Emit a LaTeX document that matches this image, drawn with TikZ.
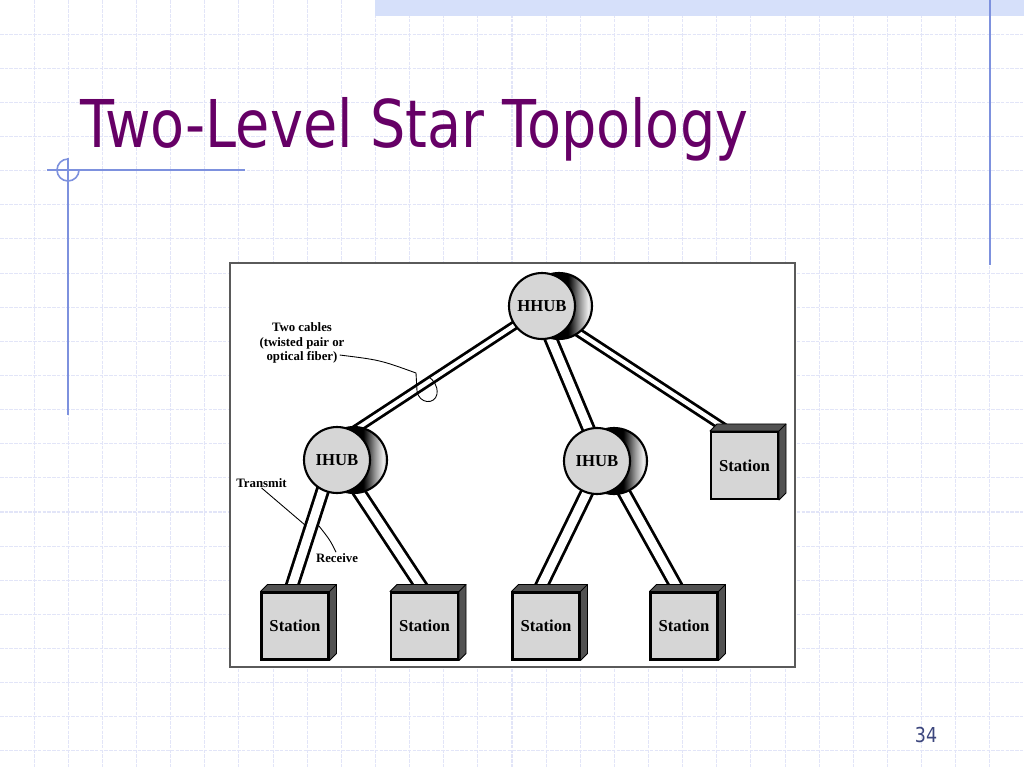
\documentclass[tikz,border=0pt]{standalone}
\usepackage{fontspec}
\setmainfont{Liberation Serif}
\newfontfamily\slidefont{DejaVu Sans}
\usetikzlibrary{calc}
\definecolor{titlepurple}{RGB}{102,0,102}
\definecolor{bluedeco}{RGB}{125,145,222}
\definecolor{gridc}{RGB}{226,229,248}
\definecolor{bandc}{RGB}{214,224,250}
\definecolor{hubfill}{RGB}{214,214,214}
\definecolor{sidegray}{RGB}{82,82,82}
\definecolor{framec}{RGB}{90,90,90}
\definecolor{pagec}{RGB}{60,70,125}
\pgfdeclarehorizontalshading{rim}{100bp}{color(0bp)=(black); color(57bp)=(black);
  color(66bp)=(gray!80); color(72bp)=(gray!15); color(75bp)=(gray!40); color(100bp)=(gray!40)}
\pgfdeclarelayer{bg}
\pgfdeclarelayer{cab}
\pgfdeclarelayer{face}
\pgfsetlayers{bg,cab,face,main}
\tikzset{
  hub/.style = {circle, draw=black, line width=1.2pt, fill=hubfill,
    minimum size=1.32cm, inner sep=0pt, font=\bfseries\fontsize{9.5}{10}\selectfont},
  hubback/.style = {circle, draw=black, line width=1.2pt, minimum size=1.32cm,
    inner sep=0pt, shading=rim},% dark rim behind the hub
  station/.style = {rectangle, draw=black, line width=1.2pt, fill=hubfill,
    minimum size=1.34cm, inner sep=0pt, font=\bfseries\fontsize{9.5}{10}\selectfont},
  boxside/.style = {fill=sidegray, draw=black, line width=0.5pt, line join=round},
  cable/.style = {draw=black, line width=1.6pt, double=white, double distance=#1,
    shorten <=-0.14cm, shorten >=-0.14cm},
  cable/.default = 2.4pt,
  lbl/.style = {font=\bfseries\fontsize{7.3}{8.3}\selectfont, inner sep=0pt, align=center},
  lead/.style = {draw=black, line width=0.5pt},
  gridline/.style = {draw=gridc, line width=0.6pt, dash pattern=on 2pt off 0.7pt},
  deco/.style = {draw=bluedeco, line width=0.9pt}
}
\begin{document}
\begin{tikzpicture}[x=0.02cm, y=-0.02cm]
\useasboundingbox (0,0) rectangle (1024,768);
% slide background
\begin{pgfonlayer}{bg}
\fill[white] (0,0) rectangle (1024,768);
\foreach \i in {1,...,29} \draw[gridline] (\i*34.133,0) -- (\i*34.133,768);
\foreach \j in {1,...,22} \draw[gridline] (0,\j*34.133) -- (1024,\j*34.133);
\fill[bandc] (375,0) rectangle (1024,16);
\draw[deco] (990,0) -- (990,265);
\draw[deco] (47,170) -- (245,170);
\draw[deco] (68,158) -- (68,415);
\draw[deco] (68,159) arc[start angle=270, end angle=0, radius=11];
\draw[draw=framec, line width=0.9pt, fill=white] (230,263) rectangle (795,667);
\end{pgfonlayer}
\node[anchor=base west, inner sep=0pt, text=titlepurple, font=\slidefont\fontsize{37.5}{40}\selectfont]
  (title) at (80,147) {\scalebox{0.845}[1]{Two-Level Star Topology}};
\node[anchor=base, text=pagec, font=\slidefont\fontsize{11.7}{13}\selectfont]
  (page) at (926,742) {\scalebox{0.85}[1]{34}};
% hubs
\foreach \n/\x/\y/\t in {hhub/542/306/HHUB, ihubL/337/460/IHUB, ihubR/597/461/IHUB}{
  \node[hubback] (\n-b) at (\x+17,\y) {};
  \node[hub] (\n) at (\x,\y) {\t};
}
% stations
\foreach \n/\x/\y in {st1/295/626, st2/424.5/626, st3/546/626, st4/684/626, stR/744.5/465.5}{
  \node[station] (\n) at (\x,\y) {Station};
  \begin{pgfonlayer}{face}
  \filldraw[boxside] (\n.north west) -- ++(7,-7) -- ($(\n.north east)+(7,-7)$)
    -- ($(\n.south east)+(7,-7)$) -- (\n.south east) -- (\n.north east) -- cycle;
  \draw[boxside] (\n.north east) -- ++(7,-7);
  \end{pgfonlayer}
}
% cables
\begin{pgfonlayer}{cab}
\draw[cable] (hhub.215) -- (ihubL.60);
\draw[cable=5pt] (hhub.-75) -- (ihubR.105);
\draw[cable] (hhub-b.-53) -- (stR.114);
\draw[cable=5pt] (ihubL.-115) -- (st1.98);
\draw[cable=5pt] (ihubL-b.-80) -- (st2.north);
\draw[cable=5pt] (ihubR.-108) -- (st3.102);
\draw[cable=5pt] (ihubR-b.-72) -- (st4.98);
\end{pgfonlayer}
% labels
\node[lbl] (cabtxt) at (302,343) {Two cables\\(twisted pair or\\optical fiber)};
\node[lbl] (txm) at (261.5,483) {Transmit};
\node[lbl] (rcv) at (337,558) {Receive};
\coordinate (loop) at (416,373);
\coordinate (tx) at (305,525);
\coordinate (rx) at (319,526);
\draw[lead] ($(cabtxt.east)+(-5,12)$) .. controls (380,360) .. (loop)
  -- ++(1,18) .. controls (419,404) and (435,405) .. (437,394)
  .. controls (438,385) and (433,380) .. (429,377);
\draw[lead] (txm.south) -- (tx);
\draw[lead] ($(rcv.north)+(-1,-1)$) .. controls (330,540) .. (rx);
\end{tikzpicture}
\end{document}
